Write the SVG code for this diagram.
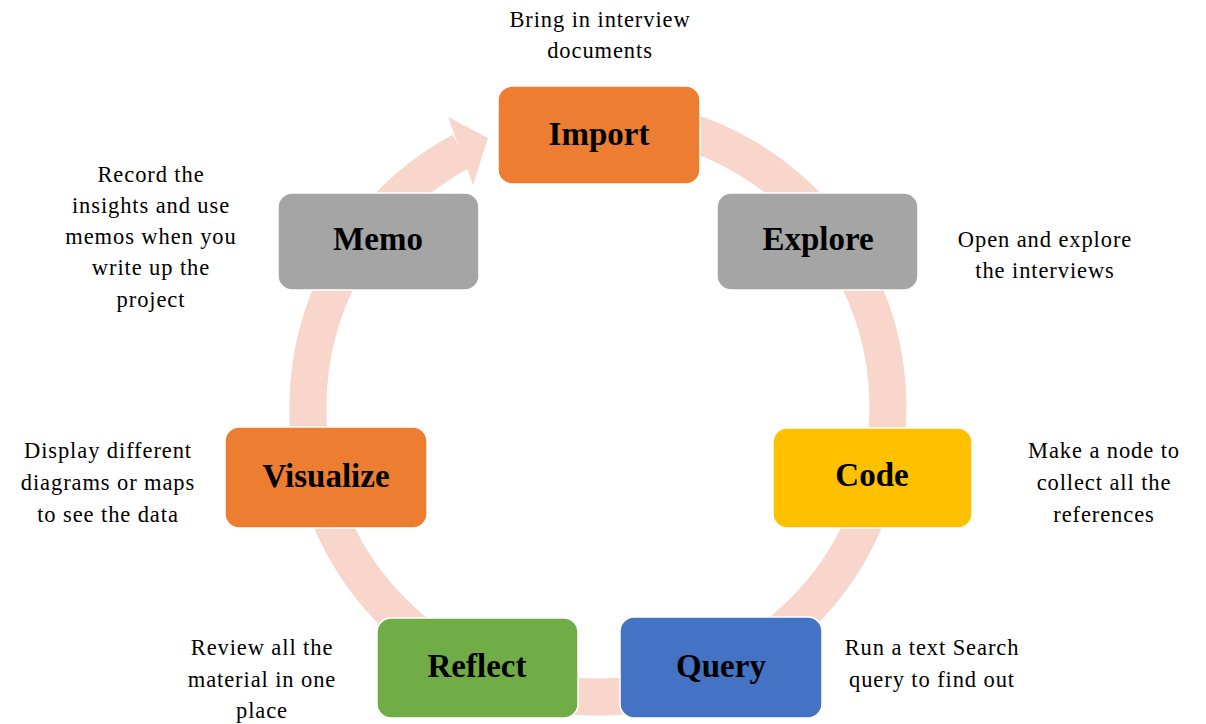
<svg xmlns="http://www.w3.org/2000/svg" width="1206" height="724" viewBox="0 0 1206 724">
<style>
.box{stroke:#ffffff;stroke-width:1.5}
.lbl{font-family:"Liberation Serif","Times New Roman",serif;font-weight:bold;font-size:33px;fill:#000;text-anchor:middle}
.desc{font-family:"Liberation Serif","Times New Roman",serif;font-size:22.5px;letter-spacing:0.9px;fill:#000;text-anchor:middle}
</style>
<rect width="1206" height="724" fill="#ffffff"/>
<g id="connectors">
<path d="M623.3,118.1 A290,290 0 1 1 461.5,151.1" fill="none" stroke="#F8D6CB" stroke-width="37"/>
<polygon points="448,117 488,138 473,185" fill="#F8D6CB"/>
</g>
<g id="import">
<rect class="box" x="498" y="86" width="202" height="98" rx="14" fill="#ED7D31"/>
<text class="lbl" x="599" y="145">Import</text>
<text class="desc" x="600" y="27">Bring in interview</text>
<text class="desc" x="600" y="58">documents</text>
</g>
<g id="explore">
<rect class="box" x="717" y="193" width="201" height="97" rx="14" fill="#A5A5A5"/>
<text class="lbl" x="818" y="250">Explore</text>
<text class="desc" x="1045" y="247">Open and explore</text>
<text class="desc" x="1045" y="278">the interviews</text>
</g>
<g id="code">
<rect class="box" x="773" y="428" width="199" height="100" rx="14" fill="#FFC000"/>
<text class="lbl" x="872" y="486">Code</text>
<text class="desc" x="1104" y="458">Make a node to</text>
<text class="desc" x="1104" y="490">collect all the</text>
<text class="desc" x="1104" y="522">references</text>
</g>
<g id="query">
<rect class="box" x="620" y="617" width="202" height="101" rx="14" fill="#4472C4"/>
<text class="lbl" x="721" y="677">Query</text>
<text class="desc" x="932" y="655">Run a text Search</text>
<text class="desc" x="932" y="687">query to find out</text>
</g>
<g id="reflect">
<rect class="box" x="377" y="618" width="201" height="100" rx="14" fill="#70AD47"/>
<text class="lbl" x="477" y="677">Reflect</text>
<text class="desc" x="262" y="655">Review all the</text>
<text class="desc" x="262" y="687">material in one</text>
<text class="desc" x="262" y="718">place</text>
</g>
<g id="visualize">
<rect class="box" x="225" y="427" width="202" height="101" rx="14" fill="#ED7D31"/>
<text class="lbl" x="326" y="487">Visualize</text>
<text class="desc" x="108" y="458">Display different</text>
<text class="desc" x="108" y="490">diagrams or maps</text>
<text class="desc" x="108" y="522">to see the data</text>
</g>
<g id="memo">
<rect class="box" x="278" y="193" width="201" height="97" rx="14" fill="#A5A5A5"/>
<text class="lbl" x="378" y="250">Memo</text>
<text class="desc" x="151" y="182">Record the</text>
<text class="desc" x="151" y="213">insights and use</text>
<text class="desc" x="151" y="244">memos when you</text>
<text class="desc" x="151" y="275">write up the</text>
<text class="desc" x="151" y="307">project</text>
</g>
</svg>
